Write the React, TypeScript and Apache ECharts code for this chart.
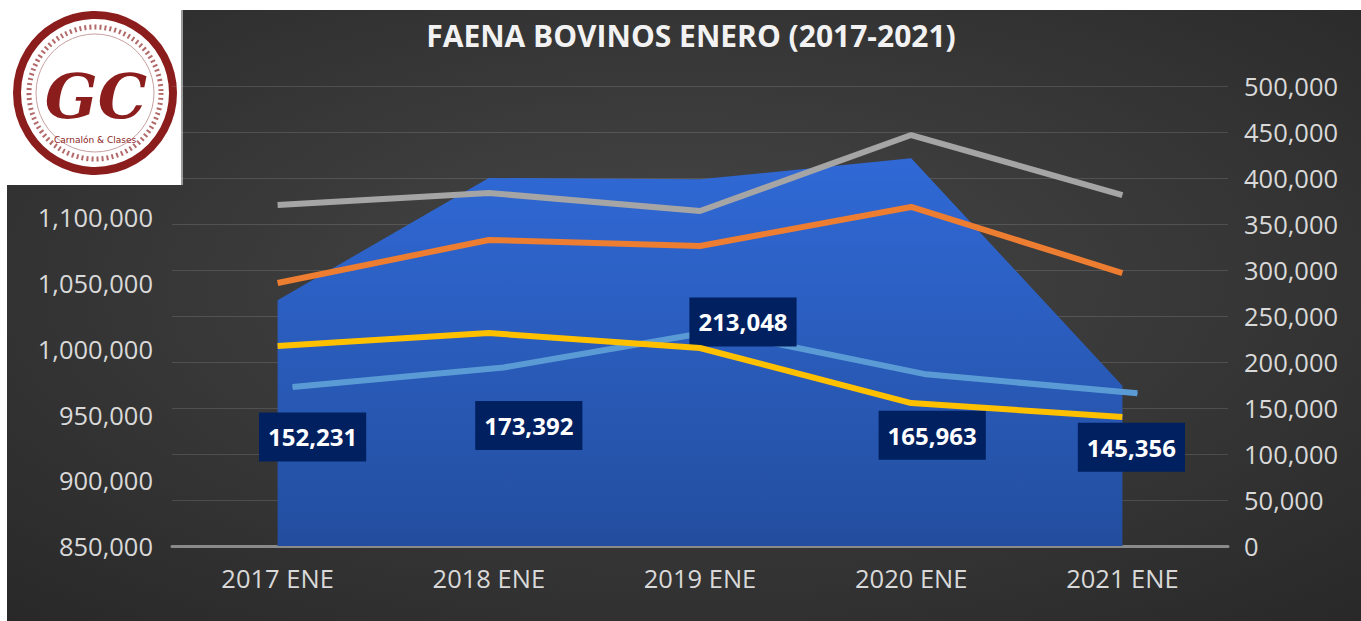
import React, { useEffect, useRef } from "react";
import * as echarts from "echarts";

// ---- data ----
const categories = ["2017 ENE", "2018 ENE", "2019 ENE", "2020 ENE", "2021 ENE"];
const totalFaena = [1037000, 1130000, 1129000, 1145000, 972000]; // left axis (area)
const graySeries = [370600, 383700, 364100, 446700, 381500]; // right axis
const orangeSeries = [285900, 332600, 326100, 368500, 296700]; // right axis
const yellowSeries = [217400, 231500, 215200, 155400, 140200]; // right axis
const lightBlueSeries = [152231, 173392, 213048, 165963, 145356]; // right axis, labelled

const leftAxisMin = 850000;
const leftAxisMax = 1200000;
const leftAxisLastShown = 1100000; // higher ticks are hidden behind the logo
const rightAxisMin = 0;
const rightAxisMax = 500000;
const axisStep = 50000;

const titleText = "FAENA BOVINOS ENERO (2017-2021)";

const FONT = "'Open Sans', 'Noto Sans', sans-serif";
const fmt = (v: number) => Math.round(v).toLocaleString("en-US");

// label offsets (px) relative to each light-blue point
const labelOffsets: [number, number][] = [
  [20, 50],
  [25, 58],
  [28, -9],
  [6, 61],
  [-6, 54],
];

export default function App() {
  const ref = useRef<HTMLDivElement>(null);

  useEffect(() => {
    if (!ref.current) return;
    const chart = echarts.init(ref.current, undefined, { renderer: "svg" });

    const gridMain = { left: 172, right: 133, top: 86, bottom: 75 };
    const shiftX = 15;
    const shiftY = 19;
    const gridShift = {
      left: gridMain.left + shiftX,
      right: gridMain.right - shiftX,
      top: gridMain.top - shiftY,
      bottom: gridMain.bottom + shiftY,
    };

    const labelStyle = {
      show: true,
      position: "inside",
      formatter: (p: any) => fmt(p.value),
      color: "#ffffff",
      fontFamily: FONT,
      fontWeight: "bold",
      fontSize: 24,
      lineHeight: 29,
      backgroundColor: "#002060",
      padding: [10, 9, 10, 9],
    };

    const option: any = {
      animation: false,
      title: {
        text: titleText,
        left: 686,
        top: 15,
        textAlign: "center",
        textStyle: {
          color: "#f2f2f2",
          fontFamily: FONT,
          fontWeight: "bold",
          fontSize: 30,
        },
      },
      grid: [
        { ...gridMain, containLabel: false },
        { ...gridShift, containLabel: false },
      ],
      xAxis: [
        {
          type: "category",
          gridIndex: 0,
          data: categories,
          boundaryGap: true,
          axisLine: { show: true, lineStyle: { color: "#8a8a8a", width: 3 } },
          axisTick: { show: false },
          axisLabel: {
            color: "#d9d9d9",
            fontFamily: FONT,
            fontSize: 25.5,
            margin: 19,
          },
        },
        {
          type: "category",
          gridIndex: 1,
          data: categories,
          boundaryGap: true,
          show: false,
        },
      ],
      yAxis: [
        {
          type: "value",
          gridIndex: 0,
          position: "left",
          min: leftAxisMin,
          max: leftAxisMax,
          interval: axisStep,
          axisLine: { show: false },
          axisTick: { show: false },
          splitLine: { show: false },
          axisLabel: {
            color: "#d9d9d9",
            fontFamily: FONT,
            fontSize: 25.5,
            margin: 19,
            formatter: (v: number) => (v > leftAxisLastShown ? "" : fmt(v)),
          },
        },
        {
          type: "value",
          gridIndex: 0,
          position: "right",
          min: rightAxisMin,
          max: rightAxisMax,
          interval: axisStep,
          axisLine: { show: false },
          axisTick: { show: false },
          splitLine: { show: true, lineStyle: { color: "rgba(255,255,255,0.13)", width: 1 } },
          axisLabel: {
            color: "#d9d9d9",
            fontFamily: FONT,
            fontSize: 25.5,
            margin: 16,
            formatter: (v: number) => fmt(v),
          },
        },
        {
          type: "value",
          gridIndex: 1,
          min: rightAxisMin,
          max: rightAxisMax,
          interval: axisStep,
          show: false,
          splitLine: { show: false },
        },
      ],
      series: [
        {
          name: "Total faena",
          type: "line",
          xAxisIndex: 0,
          yAxisIndex: 0,
          data: totalFaena,
          symbol: "none",
          lineStyle: { width: 0 },
          areaStyle: {
            opacity: 1,
            color: new echarts.graphic.LinearGradient(0, 0, 0, 1, [
              { offset: 0, color: "#3069d6" },
              { offset: 1, color: "#234e9f" },
            ]),
          },
          z: 1,
        },
        {
          name: "Serie gris",
          type: "line",
          xAxisIndex: 0,
          yAxisIndex: 1,
          data: graySeries,
          symbol: "none",
          lineStyle: { color: "#a5a5a5", width: 6 },
          z: 3,
        },
        {
          name: "Serie naranja",
          type: "line",
          xAxisIndex: 0,
          yAxisIndex: 1,
          data: orangeSeries,
          symbol: "none",
          lineStyle: { color: "#ed7d31", width: 6 },
          z: 3,
        },
        {
          name: "Serie celeste",
          type: "line",
          xAxisIndex: 1,
          yAxisIndex: 2,
          data: lightBlueSeries.map((v, i) => ({
            value: v,
            label: { ...labelStyle, offset: labelOffsets[i] },
          })),
          symbol: "circle",
          symbolSize: 1,
          itemStyle: { color: "#5b9bd5" },
          lineStyle: { color: "#5b9bd5", width: 6 },
          label: labelStyle,
          z: 3,
        },
        {
          name: "Serie amarilla",
          type: "line",
          xAxisIndex: 0,
          yAxisIndex: 1,
          data: yellowSeries,
          symbol: "none",
          lineStyle: { color: "#ffc000", width: 6 },
          z: 4,
        },
      ],
      graphic: [
        {
          type: "rect",
          z: -100,
          silent: true,
          shape: { x: 7, y: 10, width: 1361 - 7, height: 621 - 10 },
          style: {
            fill: new echarts.graphic.RadialGradient(0.5, 0.45, 0.75, [
              { offset: 0, color: "#474747" },
              { offset: 1, color: "#282828" },
            ]),
          },
        },
        {
          type: "group",
          z: 100,
          children: [
            { type: "rect", shape: { x: 0, y: 0, width: 182, height: 185 }, style: { fill: "#ffffff" } },
            { type: "line", shape: { x1: 182, y1: 10, x2: 182, y2: 185 }, style: { stroke: "#9a9a9a", lineWidth: 2 } },
            {
              type: "circle",
              shape: { cx: 95, cy: 93, r: 78 },
              style: { fill: "none", stroke: "#8c1d1d", lineWidth: 8 },
            },
            {
              type: "circle",
              shape: { cx: 95, cy: 93, r: 66 },
              style: { fill: "none", stroke: "#b36a6a", lineWidth: 5, lineDash: [2, 3] },
            },
            {
              type: "circle",
              shape: { cx: 95, cy: 93, r: 59 },
              style: { fill: "none", stroke: "#c9a0a0", lineWidth: 1 },
            },
            {
              type: "text",
              x: 96,
              y: 96,
              style: {
                text: "GC",
                fill: "#8c1d1d",
                font: "italic bold 62px 'DejaVu Serif', serif",
                textAlign: "center",
                textVerticalAlign: "middle",
              },
            },
            {
              type: "text",
              x: 95,
              y: 140,
              style: {
                text: "Carnalón & Clases",
                fill: "#8c1d1d",
                font: "9px 'DejaVu Sans', sans-serif",
                textAlign: "center",
                textVerticalAlign: "middle",
              },
            },
          ],
        },
      ],
    };

    chart.setOption(option);
    return () => chart.dispose();
  }, []);

  return (
    <div
      ref={ref}
      style={{ position: "absolute", left: 0, top: 0, width: 1361, height: 621 }}
    />
  );
}
